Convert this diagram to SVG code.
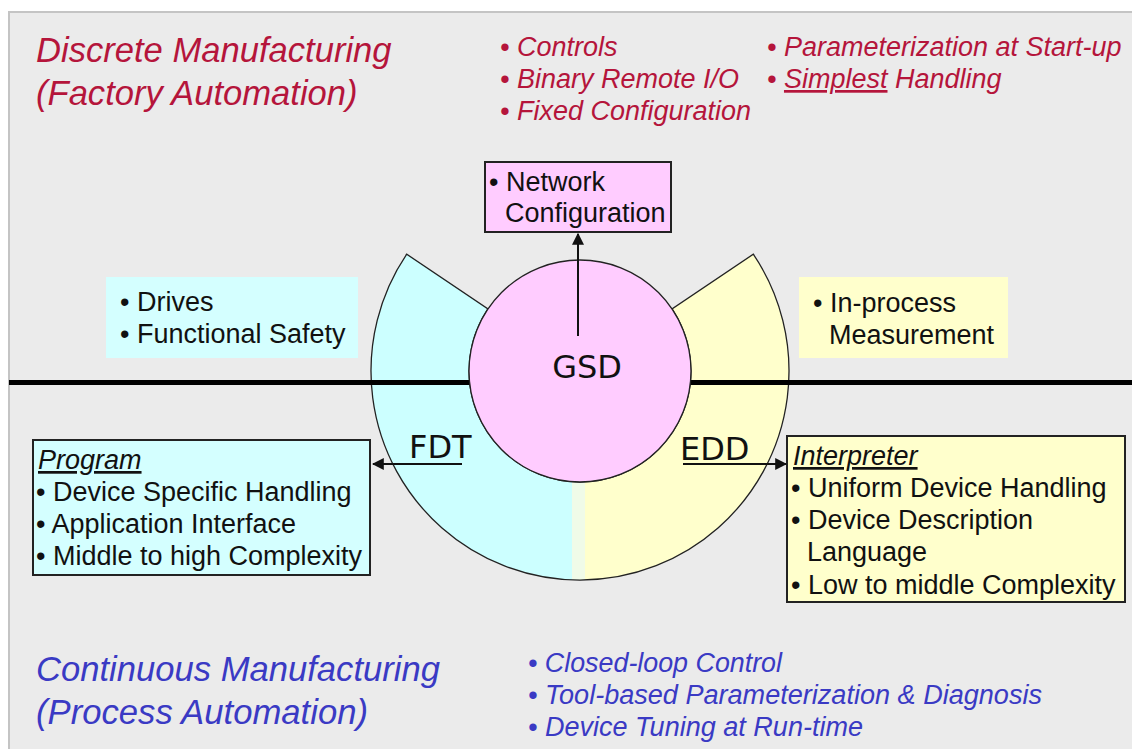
<svg xmlns="http://www.w3.org/2000/svg" width="1132" height="749" viewBox="0 0 1132 749">
<style>
.red{font-family:"Liberation Sans",Arial,sans-serif;font-style:italic;fill:#b5153b}
.blue{font-family:"Liberation Sans",Arial,sans-serif;font-style:italic;fill:#3a3ac4}
.txt{font-family:"Liberation Sans",Arial,sans-serif;font-size:27px;fill:#111}
.lbl{font-family:"DejaVu Sans",sans-serif;font-size:32px;fill:#111}
.box{stroke:#222;stroke-width:2}
.conn{stroke:#111;stroke-width:2;fill:none}
</style>
<defs>
<marker id="ah" viewBox="0 0 10 10" refX="9" refY="5" markerWidth="6" markerHeight="6" markerUnits="strokeWidth" orient="auto">
<path d="M0,0 L10,5 L0,10 Z" fill="#111"/>
</marker>
<clipPath id="ringclip">
<path d="M406.7,254.2 A209,209 0 1 0 753.3,254.2 L672,308.9 A111,111 0 1 1 488,308.9 Z"/>
</clipPath>
</defs>
<rect x="0" y="0" width="1132" height="749" fill="#ffffff"/>
<rect x="9" y="12" width="1130" height="745" fill="#ebebeb" stroke="#c4c4c4" stroke-width="2"/>
<g id="title-discrete">
<text class="red" x="36" y="62" font-size="34.6">Discrete Manufacturing</text>
<text class="red" x="36" y="105" font-size="34.6">(Factory Automation)</text>
</g>
<g id="discrete-bullets">
<text class="red" x="500" y="56" font-size="27">• Controls</text>
<text class="red" x="500" y="88" font-size="27">• Binary Remote I/O</text>
<text class="red" x="500" y="120" font-size="27">• Fixed Configuration</text>
<text class="red" x="767" y="56" font-size="27">• Parameterization at Start-up</text>
<text class="red" x="767" y="88" font-size="27">• <tspan text-decoration="underline">Simplest</tspan> Handling</text>
</g>
<g id="fdt-sector">
<path d="M406.7,254.2 A209,209 0 0 0 580,580 L580,482 A111,111 0 0 1 488,308.9 Z" fill="#ccffff"/>
<text class="lbl" x="409" y="458">FDT</text>
</g>
<g id="edd-sector">
<path d="M580,580 A209,209 0 0 0 753.3,254.2 L672,308.9 A111,111 0 0 1 580,482 Z" fill="#ffffcc"/>
<rect x="572" y="480" width="13" height="102" fill="#f0fbe8" clip-path="url(#ringclip)"/>
<text class="lbl" x="680" y="460">EDD</text>
</g>
<path d="M406.7,254.2 A209,209 0 1 0 753.3,254.2 L672,308.9 A111,111 0 1 1 488,308.9 Z" fill="none" stroke="#222" stroke-width="1.3"/>
<g id="fieldbus-line">
<rect x="9" y="380" width="1123" height="5" fill="#000"/>
</g>
<g id="gsd">
<circle cx="580" cy="371" r="111" fill="#ffccff" stroke="#222" stroke-width="1.3"/>
<text class="lbl" x="587" y="378" text-anchor="middle">GSD</text>
</g>
<g id="network-config">
<rect class="box" x="485" y="162" width="186" height="70" fill="#ffccff"/>
<text class="txt" x="489" y="191">• Network</text>
<text class="txt" x="505" y="222">Configuration</text>
</g>
<g id="drives">
<rect x="106" y="277" width="252" height="81" fill="#d4ffff"/>
<text class="txt" x="120" y="311">• Drives</text>
<text class="txt" x="120" y="343">• Functional Safety</text>
</g>
<g id="inprocess">
<rect x="799" y="277" width="209" height="81" fill="#ffffcc"/>
<text class="txt" x="813" y="312">• In-process</text>
<text class="txt" x="829" y="344">Measurement</text>
</g>
<g id="program">
<rect class="box" x="33" y="440" width="337" height="135" fill="#d4ffff"/>
<text class="txt" x="38" y="469" font-style="italic" text-decoration="underline">Program</text>
<text class="txt" x="36" y="501">• Device Specific Handling</text>
<text class="txt" x="36" y="533">• Application Interface</text>
<text class="txt" x="36" y="565">• Middle to high Complexity</text>
</g>
<g id="interpreter">
<rect class="box" x="787" y="436" width="338" height="166" fill="#ffffcc"/>
<text class="txt" x="793" y="465" font-style="italic" text-decoration="underline">Interpreter</text>
<text class="txt" x="791" y="497">• Uniform Device Handling</text>
<text class="txt" x="791" y="529">• Device Description</text>
<text class="txt" x="807" y="561">Language</text>
<text class="txt" x="791" y="594">• Low to middle Complexity</text>
</g>
<g id="connectors">
<line class="conn" x1="578" y1="336" x2="578" y2="234" marker-end="url(#ah)"/>
<line class="conn" x1="462" y1="464" x2="373" y2="464" marker-end="url(#ah)"/>
<line class="conn" x1="683" y1="464" x2="786" y2="464" marker-end="url(#ah)"/>
</g>
<g id="title-continuous">
<text class="blue" x="36" y="681" font-size="35" textLength="404" lengthAdjust="spacingAndGlyphs">Continuous Manufacturing</text>
<text class="blue" x="36" y="724" font-size="35" textLength="332" lengthAdjust="spacingAndGlyphs">(Process Automation)</text>
</g>
<g id="continuous-bullets">
<text class="blue" x="528" y="672" font-size="27" textLength="254" lengthAdjust="spacingAndGlyphs">• Closed-loop Control</text>
<text class="blue" x="528" y="704" font-size="27" textLength="514" lengthAdjust="spacingAndGlyphs">• Tool-based Parameterization &amp; Diagnosis</text>
<text class="blue" x="528" y="736" font-size="27" textLength="335" lengthAdjust="spacingAndGlyphs">• Device Tuning at Run-time</text>
</g>
</svg>
